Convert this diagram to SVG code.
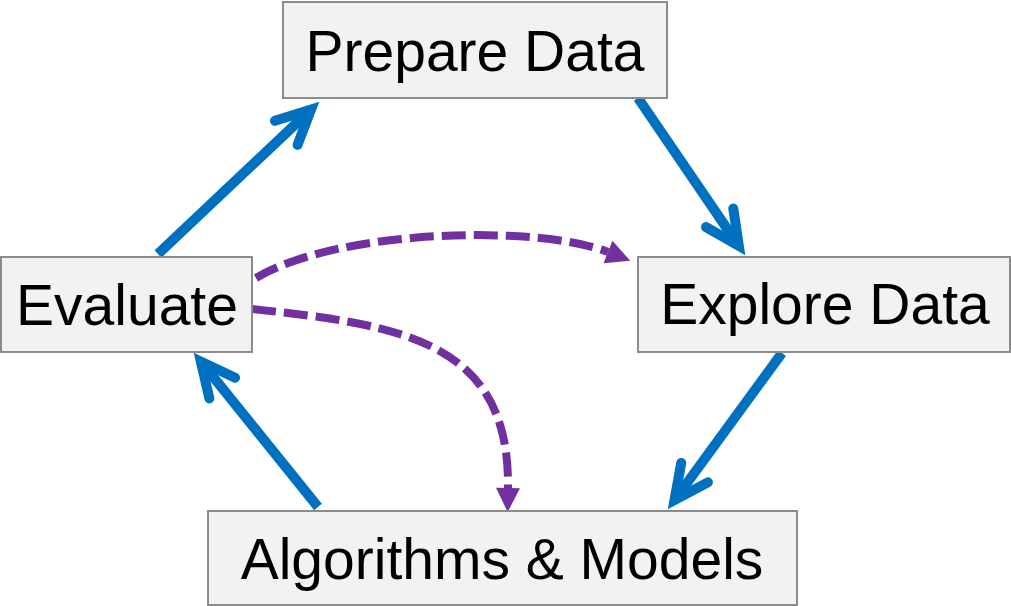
<svg xmlns="http://www.w3.org/2000/svg" width="1011" height="606" viewBox="0 0 1011 606">
  <style>
    .box { fill: #f2f2f2; stroke: #8c8c8c; stroke-width: 2; }
    .label { font-family: "Liberation Sans", Arial, sans-serif; font-size: 57px; fill: #000; text-anchor: middle; }
    .flow { fill: none; stroke: #0070C0; stroke-width: 10; stroke-linecap: butt; }
    .dash { fill: none; stroke: #7030A0; stroke-width: 8; stroke-dasharray: 24 8; }
  </style>
  <defs>
    <marker id="openArrow" markerUnits="userSpaceOnUse" orient="auto" refX="0" refY="0" markerWidth="80" markerHeight="80" viewBox="-50 -40 80 80" overflow="visible">
      <path d="M-34,-16.5 L0,0 L-34,16.5" fill="none" stroke="#0070C0" stroke-width="10" stroke-linecap="round" stroke-linejoin="miter" stroke-miterlimit="10"/>
    </marker>
    <marker id="triArrow" markerUnits="userSpaceOnUse" orient="auto" refX="0" refY="0" markerWidth="40" markerHeight="40" viewBox="-5 -20 40 40" overflow="visible">
      <path d="M0,-12 L24,0 L0,12 Z" fill="#7030A0"/>
    </marker>
  </defs>

  <g id="connectors">
    <line class="flow" x1="158" y1="254" x2="311" y2="109.5" marker-end="url(#openArrow)"/>
    <line class="flow" x1="638" y1="98" x2="738.8" y2="245.9" marker-end="url(#openArrow)"/>
    <line class="flow" x1="782" y1="353" x2="674.5" y2="500.1" marker-end="url(#openArrow)"/>
    <line class="flow" x1="318" y1="507" x2="200.9" y2="361.6" marker-end="url(#openArrow)"/>
    <path class="dash" d="M256,278 C340,228 540,225 608,252" marker-end="url(#triArrow)"/>
    <path class="dash" d="M252,309 C400,325 510,340 508,488" marker-end="url(#triArrow)"/>
  </g>

  <g id="node-prepare">
    <rect class="box" x="283" y="2" width="384" height="96"/>
    <text class="label" x="475" y="71">Prepare Data</text>
  </g>
  <g id="node-evaluate">
    <rect class="box" x="1" y="257" width="251" height="95"/>
    <text class="label" x="127" y="325">Evaluate</text>
  </g>
  <g id="node-explore">
    <rect class="box" x="638" y="257" width="372" height="95"/>
    <text class="label" x="825" y="324">Explore Data</text>
  </g>
  <g id="node-algorithms">
    <rect class="box" x="208" y="511" width="589" height="94"/>
    <text class="label" x="502" y="579">Algorithms &amp; Models</text>
  </g>
</svg>
